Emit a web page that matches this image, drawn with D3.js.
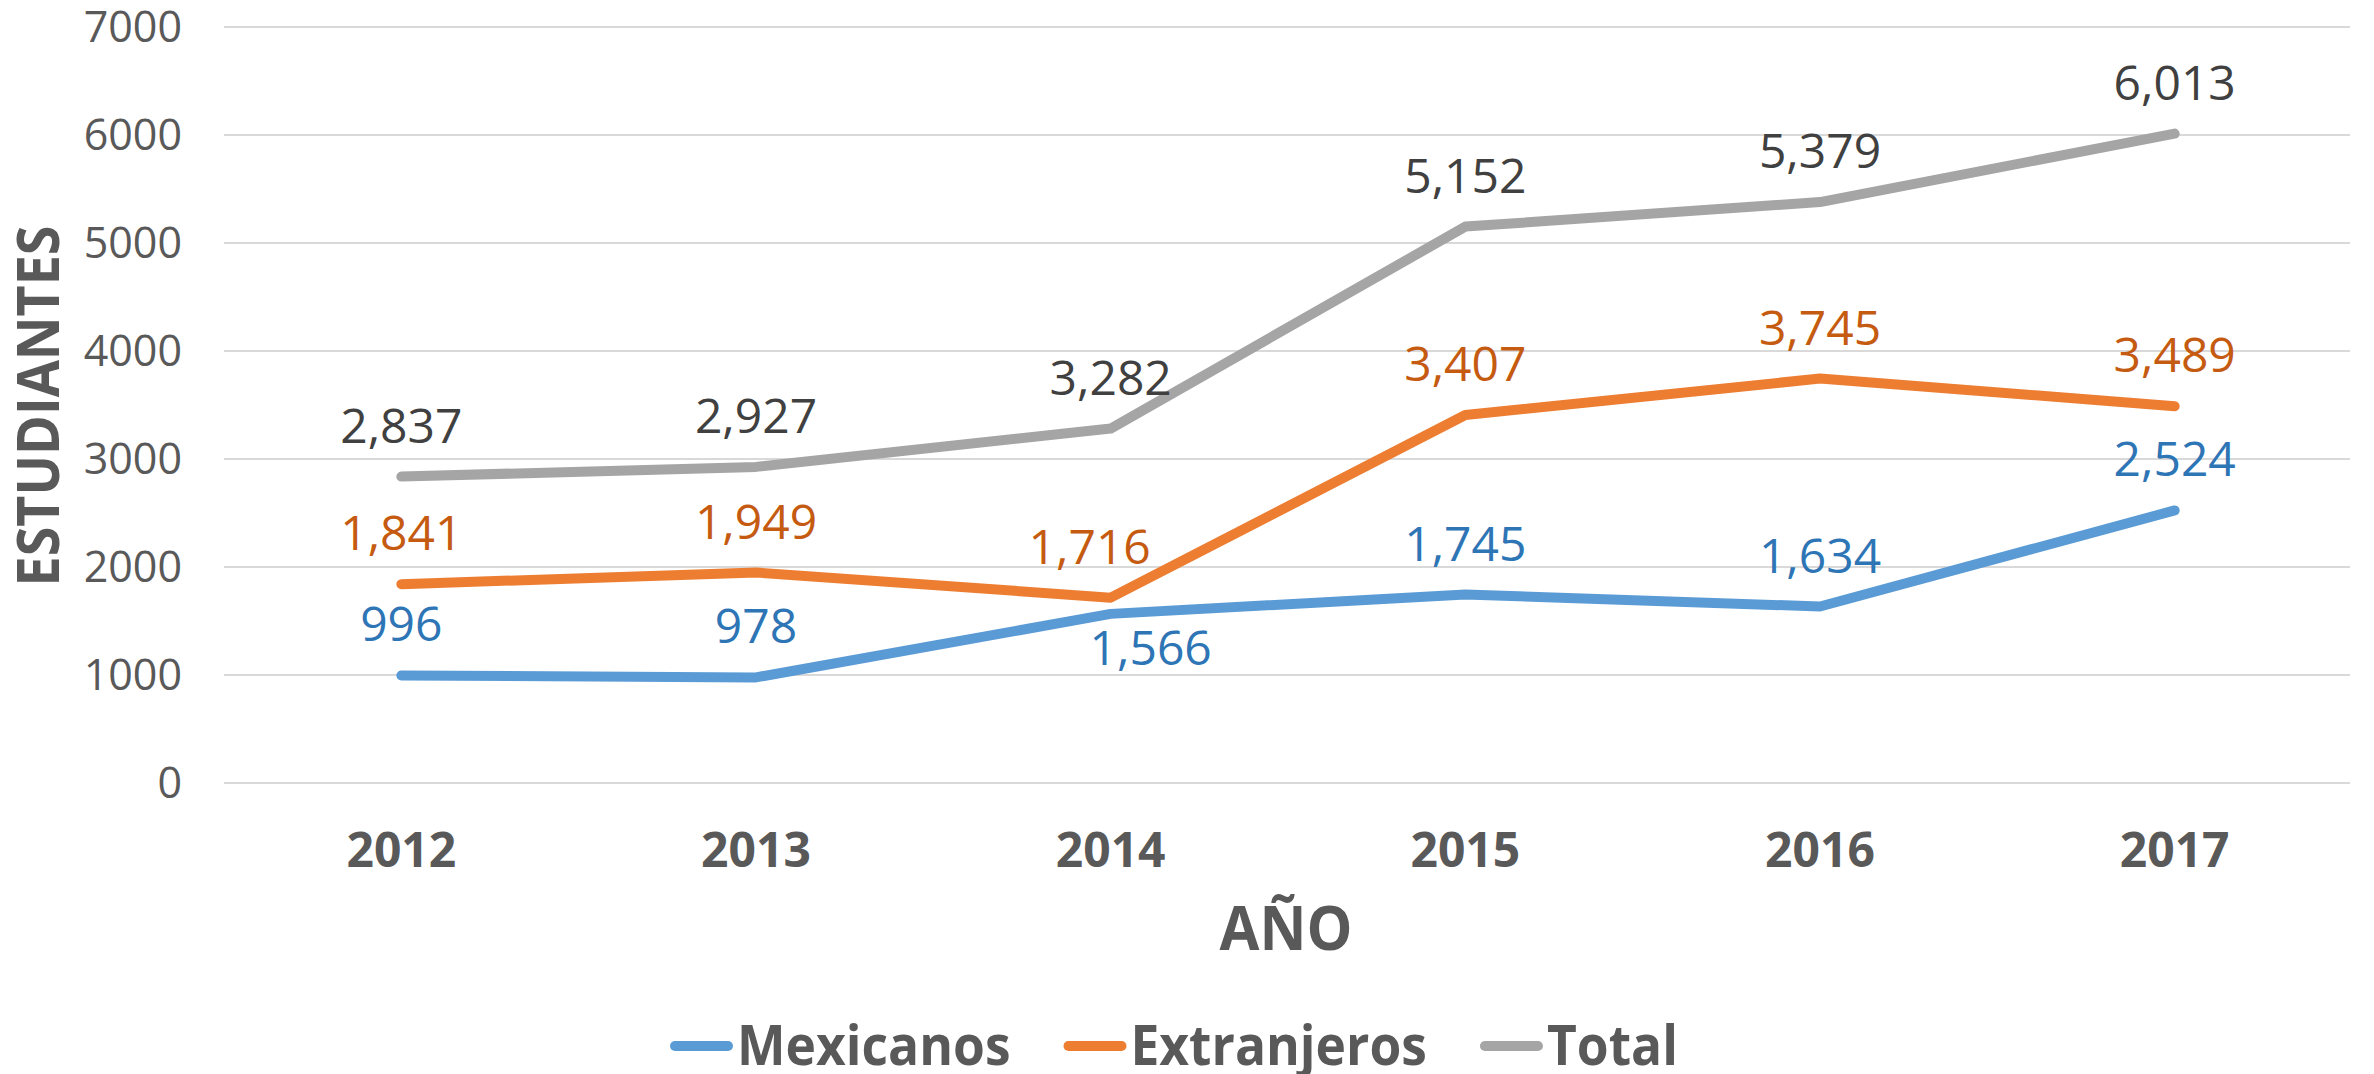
<!DOCTYPE html>
<meta charset="utf-8" />
<style>
  body { margin: 0; background: #fff; }
  svg { display: block; font-family: "Open Sans", sans-serif; }
</style>
<body>
  <div id="chart"></div>
  <script src="https://cdn.jsdelivr.net/npm/d3@7"></script>
  <script>
    const years = ["2012", "2013", "2014", "2015", "2016", "2017"];
    const mexicanos = [996, 978, 1566, 1745, 1634, 2524];
    const extranjeros = [1841, 1949, 1716, 3407, 3745, 3489];
    const total = [2837, 2927, 3282, 5152, 5379, 6013];
    const yTicks = [0, 1000, 2000, 3000, 4000, 5000, 6000, 7000];

    const series = [
      { name: "Mexicanos", values: mexicanos, line: "#5B9BD5", label: "#2E75B6" },
      { name: "Extranjeros", values: extranjeros, line: "#ED7D31", label: "#C55A11" },
      { name: "Total", values: total, line: "#A5A5A5", label: "#404040" },
    ];

    // labels that excel moved a bit to avoid overlapping
    const labelNudge = {
      "Mexicanos|2014": { dx: 40, below: true },
      "Extranjeros|2014": { dx: -21 },
    };

    const width = 2374;
    const height = 1074;

    const svg = d3.select("#chart").append("svg").attr("width", width).attr("height", height);
    svg.append("rect").attr("width", width).attr("height", height).attr("fill", "#fff");

    const x = d3.scalePoint().domain(years).range([224, 2352]).padding(0.5);
    const y = d3.scaleLinear().domain([0, 7000]).range([783, 27]);
    const fmt = d3.format(",");

    // gridlines
    svg
      .append("g")
      .selectAll("line")
      .data(yTicks)
      .enter()
      .append("line")
      .attr("x1", 224)
      .attr("x2", 2350)
      .attr("y1", (d) => y(d))
      .attr("y2", (d) => y(d))
      .attr("stroke", "#d9d9d9")
      .attr("stroke-width", 2);

    // y tick labels
    svg
      .append("g")
      .selectAll("text")
      .data(yTicks)
      .enter()
      .append("text")
      .attr("x", 182)
      .attr("y", (d) => y(d))
      .attr("dy", "0.36em")
      .attr("text-anchor", "end")
      .attr("fill", "#595959")
      .attr("font-size", "43px")
      .text((d) => d);

    // x tick labels
    svg
      .append("g")
      .selectAll("text")
      .data(years)
      .enter()
      .append("text")
      .attr("x", (d) => x(d))
      .attr("y", 867)
      .attr("text-anchor", "middle")
      .attr("fill", "#595959")
      .attr("font-size", "48px")
      .attr("font-weight", "bold")
      .text((d) => d);

    // axis titles
    svg
      .append("text")
      .attr("x", 1286)
      .attr("y", 950)
      .attr("text-anchor", "middle")
      .attr("fill", "#595959")
      .attr("font-size", "60px")
      .attr("font-weight", "bold")
      .attr("textLength", 133)
      .attr("lengthAdjust", "spacingAndGlyphs")
      .text("AÑO");

    svg
      .append("text")
      .attr("transform", "translate(59,406) rotate(-90)")
      .attr("text-anchor", "middle")
      .attr("fill", "#595959")
      .attr("font-size", "59px")
      .attr("font-weight", "bold")
      .attr("textLength", 361)
      .attr("lengthAdjust", "spacingAndGlyphs")
      .text("ESTUDIANTES");

    // lines
    const line = d3
      .line()
      .x((d, i) => x(years[i]))
      .y((d) => y(d));

    svg
      .append("g")
      .selectAll("path")
      .data(series)
      .enter()
      .append("path")
      .attr("d", (s) => line(s.values))
      .attr("fill", "none")
      .attr("stroke", (s) => s.line)
      .attr("stroke-width", 10)
      .attr("stroke-linecap", "round")
      .attr("stroke-linejoin", "round");

    // data labels
    const labelData = series.flatMap((s) =>
      s.values.map((v, i) => ({ s: s, v: v, year: years[i] })),
    );

    svg
      .append("g")
      .selectAll("text")
      .data(labelData)
      .enter()
      .append("text")
      .attr("x", (d) => {
        const n = labelNudge[d.s.name + "|" + d.year];
        return x(d.year) + (n ? n.dx : 0);
      })
      .attr("y", (d) => {
        const n = labelNudge[d.s.name + "|" + d.year];
        return n && n.below ? y(d.v) + 51 : y(d.v) - 34;
      })
      .attr("text-anchor", "middle")
      .attr("fill", (d) => d.s.label)
      .attr("font-size", "48px")
      .text((d) => fmt(d.v));

    // legend
    const legend = svg.append("g");
    let lx = 670;
    series.forEach((s) => {
      legend
        .append("line")
        .attr("x1", lx + 5)
        .attr("x2", lx + 58)
        .attr("y1", 1046)
        .attr("y2", 1046)
        .attr("stroke", s.line)
        .attr("stroke-width", 10)
        .attr("stroke-linecap", "round");
      const t = legend
        .append("text")
        .attr("x", lx + 67)
        .attr("y", 1065)
        .attr("fill", "#595959")
        .attr("font-size", "56px")
        .attr("font-weight", "bold")
        .text(s.name);
      const w = t.node().getComputedTextLength() * 0.92;
      t.attr("textLength", w).attr("lengthAdjust", "spacingAndGlyphs");
      lx += 67 + w + 53;
    });
  </script>
</body>
